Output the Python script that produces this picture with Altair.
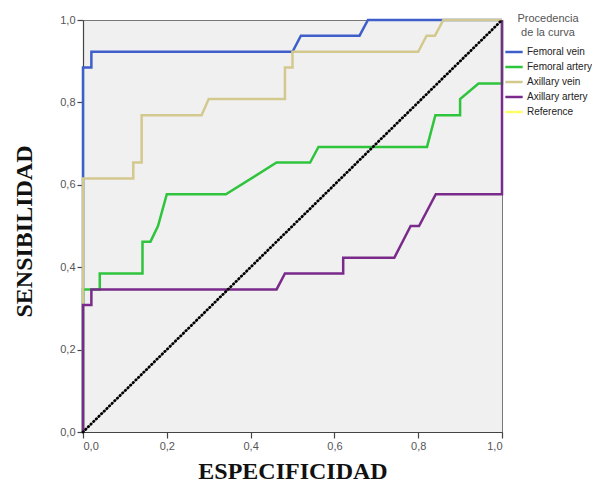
import altair as alt
import pandas as pd

series_names = ["Femoral vein", "Femoral artery", "Axillary vein", "Axillary artery", "Reference"]
series_colors = ["#3e5fc9", "#2ec43c", "#d3c98f", "#7a2a8a", "#ffff66"]

fv_x = [0, 0, 0.02, 0.02, 0.50, 0.52, 0.66, 0.68, 1.0]
fv_y = [0, 0.885, 0.885, 0.923, 0.923, 0.962, 0.962, 1.0, 1.0]

fa_x = [0, 0, 0.04, 0.04, 0.142, 0.142, 0.161, 0.179, 0.20, 0.341, 0.462, 0.542, 0.562, 0.821, 0.841, 0.90, 0.90, 0.944, 1.0, 1.0]
fa_y = [0, 0.346, 0.346, 0.385, 0.385, 0.462, 0.462, 0.5, 0.577, 0.577, 0.654, 0.654, 0.692, 0.692, 0.769, 0.769, 0.808, 0.846, 0.846, 1.0]

av_x = [0, 0, 0.12, 0.12, 0.14, 0.14, 0.283, 0.30, 0.482, 0.482, 0.50, 0.50, 0.80, 0.82, 0.84, 0.86, 1.0]
av_y = [0, 0.615, 0.615, 0.654, 0.654, 0.769, 0.769, 0.808, 0.808, 0.885, 0.885, 0.923, 0.923, 0.962, 0.962, 1.0, 1.0]

aa_x = [0, 0, 0.02, 0.02, 0.462, 0.482, 0.621, 0.621, 0.743, 0.782, 0.802, 0.842, 1.0, 1.0]
aa_y = [0, 0.308, 0.308, 0.346, 0.346, 0.385, 0.385, 0.423, 0.423, 0.5, 0.5, 0.577, 0.577, 1.0]

ref_x = [0, 1]
ref_y = [0, 1]

tick_values = [0, 0.2, 0.4, 0.6, 0.8, 1.0]

rows = []
for name, xs, ys in [
    ("Femoral vein", fv_x, fv_y),
    ("Femoral artery", fa_x, fa_y),
    ("Axillary vein", av_x, av_y),
    ("Axillary artery", aa_x, aa_y),
]:
    for i, (xv, yv) in enumerate(zip(xs, ys)):
        rows.append({"serie": name, "idx": i, "x": xv, "y": yv})
df = pd.DataFrame(rows)
ref_df = pd.DataFrame({"x": ref_x, "y": ref_y, "idx": [0, 1]})

label_expr = "replace(format(datum.value, '.1f'), '.', ',')"

x_enc = alt.X(
    "x:Q",
    scale=alt.Scale(domain=[0, 1], nice=False),
    axis=alt.Axis(
        values=tick_values, labelExpr=label_expr, title="ESPECIFICIDAD",
        titleY=46, titleBaseline="alphabetic",
    ),
)
y_enc = alt.Y(
    "y:Q",
    scale=alt.Scale(domain=[0, 1], nice=False),
    axis=alt.Axis(
        values=tick_values, labelExpr=label_expr, title="SENSIBILIDAD",
        titleX=-59, titleY=211, titleBaseline="middle",
    ),
)

lines = alt.Chart(df).mark_line(strokeWidth=2.5, strokeJoin="miter").encode(
    x=x_enc,
    y=y_enc,
    color=alt.Color(
        "serie:N",
        scale=alt.Scale(domain=series_names, range=series_colors),
        legend=alt.Legend(
            title=["Procedencia", "de la curva"],
            orient="none", legendX=421, legendY=-7,
            titleAnchor="middle", titleAlign="center",
            titleFont="Liberation Sans", titleFontSize=11, titleFontWeight="normal",
            titleColor="#555555", titleLineHeight=14, titlePadding=4,
            labelFont="Liberation Sans", labelFontSize=10, labelColor="#222222",
            symbolType="stroke", symbolSize=300, symbolStrokeWidth=2.5,
            rowPadding=-3, labelOffset=3,
        ),
    ),
    order="idx:Q",
)

ref = alt.Chart(ref_df).mark_line(
    color="black", strokeWidth=2.8, strokeDash=[0.5, 3.2], strokeCap="round"
).encode(x="x:Q", y="y:Q", order="idx:Q")

chart = (
    alt.layer(lines, ref)
    .properties(
        width=419, height=412,
        autosize=alt.AutoSizeParams(type="none"),
        padding={"left": 75, "top": 12, "right": 90, "bottom": 50},
    )
    .configure_view(fill="#f0f0f0", stroke="#777777", strokeWidth=1)
    .configure_axis(
        grid=False,
        domainColor="#444444", domainWidth=1.2,
        tickColor="#444444", tickSize=6, tickWidth=1.2,
        labelFont="Liberation Sans", labelFontSize=11, labelColor="#555555", labelPadding=2,
        titleFont="Liberation Serif", titleFontSize=24, titleFontWeight="bold", titleColor="#111111",
    )
)

chart.save("out.html", embed_options={"renderer": "svg", "actions": False})
